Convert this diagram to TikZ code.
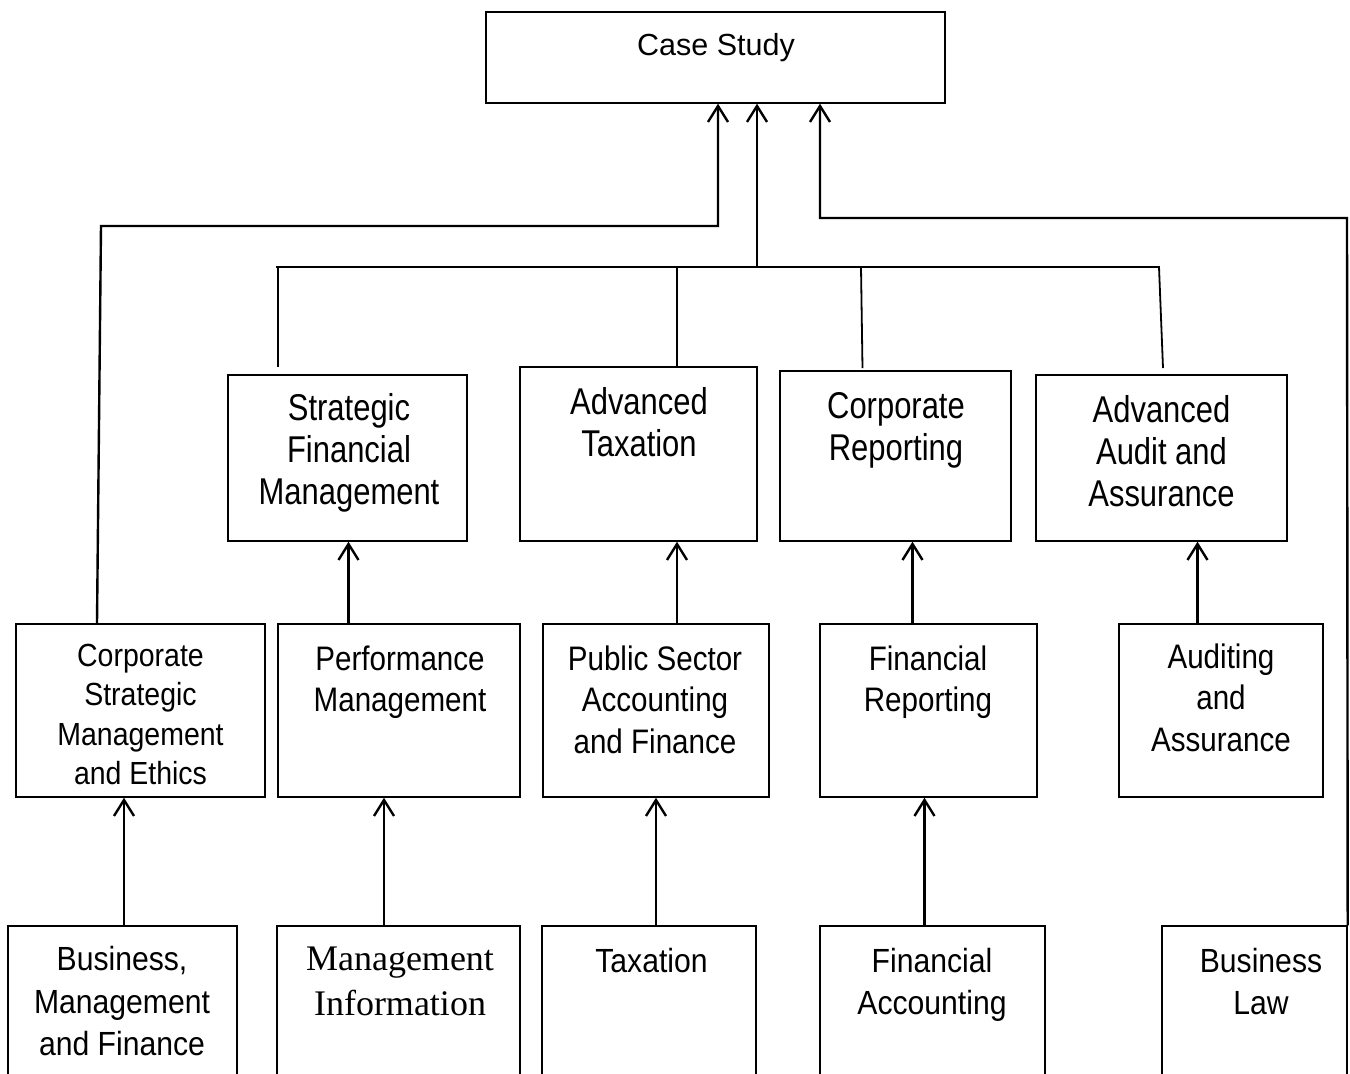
\documentclass[tikz,border=0pt]{standalone}
\usepackage{fontspec}
\setmainfont{Liberation Sans}
\newfontfamily\fcs{Liberation Sans}
\newfontfamily\frowc{Liberation Sans}[FakeStretch=0.83]
\newfontfamily\frowb{Liberation Sans}[FakeStretch=0.87]
\newfontfamily\fcsme{Liberation Sans}[FakeStretch=0.89]
\newfontfamily\frowa{Liberation Sans}[FakeStretch=0.9]
\newfontfamily\fserif{Liberation Serif}
\usetikzlibrary{arrows.meta}
\begin{document}
\begin{tikzpicture}[x=0.5pt,y=-0.5pt,
  box/.style={draw=black, line width=0.7pt, inner sep=0pt},
  lbl/.style={anchor=north, inner sep=0pt, align=center},
  conn/.style={draw=black, line width=0.9pt},
  arr/.style={draw=black, line width=1.2pt, -{Straight Barb[length=8pt,width=10pt]}},
  tcs/.style={lbl, font=\fcs\fontsize{15.25pt}{18pt}\selectfont},
  tc/.style={lbl, font=\frowc\fontsize{18.65pt}{21pt}\selectfont},
  tb/.style={lbl, font=\frowb\fontsize{17pt}{20.75pt}\selectfont},
  tm/.style={lbl, font=\fcsme\fontsize{16pt}{19.75pt}\selectfont},
  ta/.style={lbl, font=\frowa\fontsize{16.75pt}{21.25pt}\selectfont},
  ts/.style={lbl, font=\fserif\fontsize{18pt}{22.2pt}\selectfont},
]
\useasboundingbox (0,0) rectangle (1350,1073);
\fill[white] (0,0) rectangle (1350,1073);
\clip (0,0) rectangle (1350,1073);

% ---- boxes ----
\node[box, minimum width=229.5pt, minimum height=45.5pt] (cs) at (715.5,57.5) {};

\node[box, minimum width=119.5pt, minimum height=83pt] (sfm) at (347.5,458) {};
\node[box, minimum width=118.5pt, minimum height=87pt] (at) at (638.5,454) {};
\node[box, minimum width=115.5pt, minimum height=85pt] (cr) at (895.5,456) {};
\node[box, minimum width=125.5pt, minimum height=83pt] (aaa) at (1161.5,458) {};

\node[box, minimum width=124.5pt, minimum height=86.5pt] (csme) at (140.5,710.5) {};
\node[box, minimum width=121pt, minimum height=86.5pt] (pm) at (399,710.5) {};
\node[box, minimum width=113pt, minimum height=86.5pt] (psaf) at (656,710.5) {};
\node[box, minimum width=108.5pt, minimum height=86.5pt] (fr) at (928.5,710.5) {};
\node[box, minimum width=102pt, minimum height=86.5pt] (aa) at (1221,710.5) {};

\node[box, minimum width=114.5pt, minimum height=92pt] (bmf) at (122.5,1018) {};
\node[box, minimum width=121.5pt, minimum height=92pt] (mi) at (398.5,1018) {};
\node[box, minimum width=107pt, minimum height=92pt] (tax) at (649,1018) {};
\node[box, minimum width=112.5pt, minimum height=92pt] (fa) at (932.5,1018) {};
\node[box, minimum width=92.5pt, minimum height=92pt] (bl) at (1254.5,1018) {};

% ---- labels ----
\node[tcs] (tcs1) at (716,33.3) {Case Study};
\node[tc] (tsfm) at (349,392.7) {Strategic\\Financial\\Management};
\node[tc] (tat) at (639,386.7) {Advanced\\Taxation};
\node[tc] (tcr) at (896,391.7) {Corporate\\Reporting};
\node[tc] (taaa) at (1161.5,395) {Advanced\\Audit and\\Assurance};

\node[tm] (tcsme) at (140.5,643.3) {Corporate\\Strategic\\Management\\and Ethics};
\node[tb] (tpm) at (400,645) {Performance\\Management};
\node[tb] (tpsaf) at (655,645) {Public Sector\\Accounting\\and Finance};
\node[tb] (tfr) at (928,645) {Financial\\Reporting};
\node[tb] (taa) at (1221,643) {Auditing\\and\\Assurance};

\node[ta] (tbmf) at (122,946) {Business,\\Management\\and Finance};
\node[ts] (tmi) at (400,947) {Management\\Information};
\node[ta] (ttax) at (651.5,947.5) {Taxation};
\node[ta] (tfa) at (932,947.5) {Financial\\Accounting};
\node[ta] (tbl) at (1261,947.5) {Business\\Law};

% ---- bottom row to second row ----
\coordinate (a1) at ([xshift=0.75pt]bmf.north);
\draw[arr] (a1) -- (a1 |- csme.south);
\coordinate (a2) at ([xshift=-7.25pt]mi.north);
\draw[arr] (a2) -- (a2 |- pm.south);
\draw[arr] (tax.north -| psaf.south) -- (psaf.south);
\coordinate (a4) at ([xshift=-2pt]fr.south);
\draw[arr] (a4 |- fa.north) -- (a4);

% ---- second row to third row ----
\coordinate (b1) at ([xshift=0.5pt]sfm.south);
\draw[arr] (b1 |- pm.north) -- (b1);
\coordinate (b2) at ([xshift=19.25pt]at.south);
\draw[arr] (b2 |- psaf.north) -- (b2);
\coordinate (b3) at ([xshift=8.5pt]cr.south);
\draw[arr] (b3 |- fr.north) -- (b3);
\coordinate (b4) at ([xshift=18pt]aaa.south);
\draw[arr] (b4 |- aa.north) -- (b4);

% ---- bus of third row ----
\coordinate (busl) at (276,267);
\coordinate (busr) at (1159,267);
\coordinate (d1) at (278,367);
\coordinate (d2) at (677,367);
\coordinate (d3) at (862.5,368);
\coordinate (d4) at (1163,368);
\draw[conn] (busl) -- (busr) -- (d4);
\draw[conn] (278,267) -- (d1);
\draw[conn] (677,267) -- (d2);
\draw[conn] (861,267) -- (d3);

% ---- into Case Study ----
\coordinate (c1) at ([xshift=1.25pt]cs.south);
\coordinate (c2) at ([xshift=20.75pt]cs.south);
\coordinate (c3) at ([xshift=52.25pt]cs.south);
\coordinate (k1) at (101,226);
\coordinate (k3) at (1347,218);
\draw[arr] ([xshift=-21.75pt]csme.north) -- (k1) -| (c1);
\draw[arr] (c2 |- busl) -- (c2);
\draw[arr] (bl.north east) -- (k3) -| (c3);
\end{tikzpicture}
\end{document}
